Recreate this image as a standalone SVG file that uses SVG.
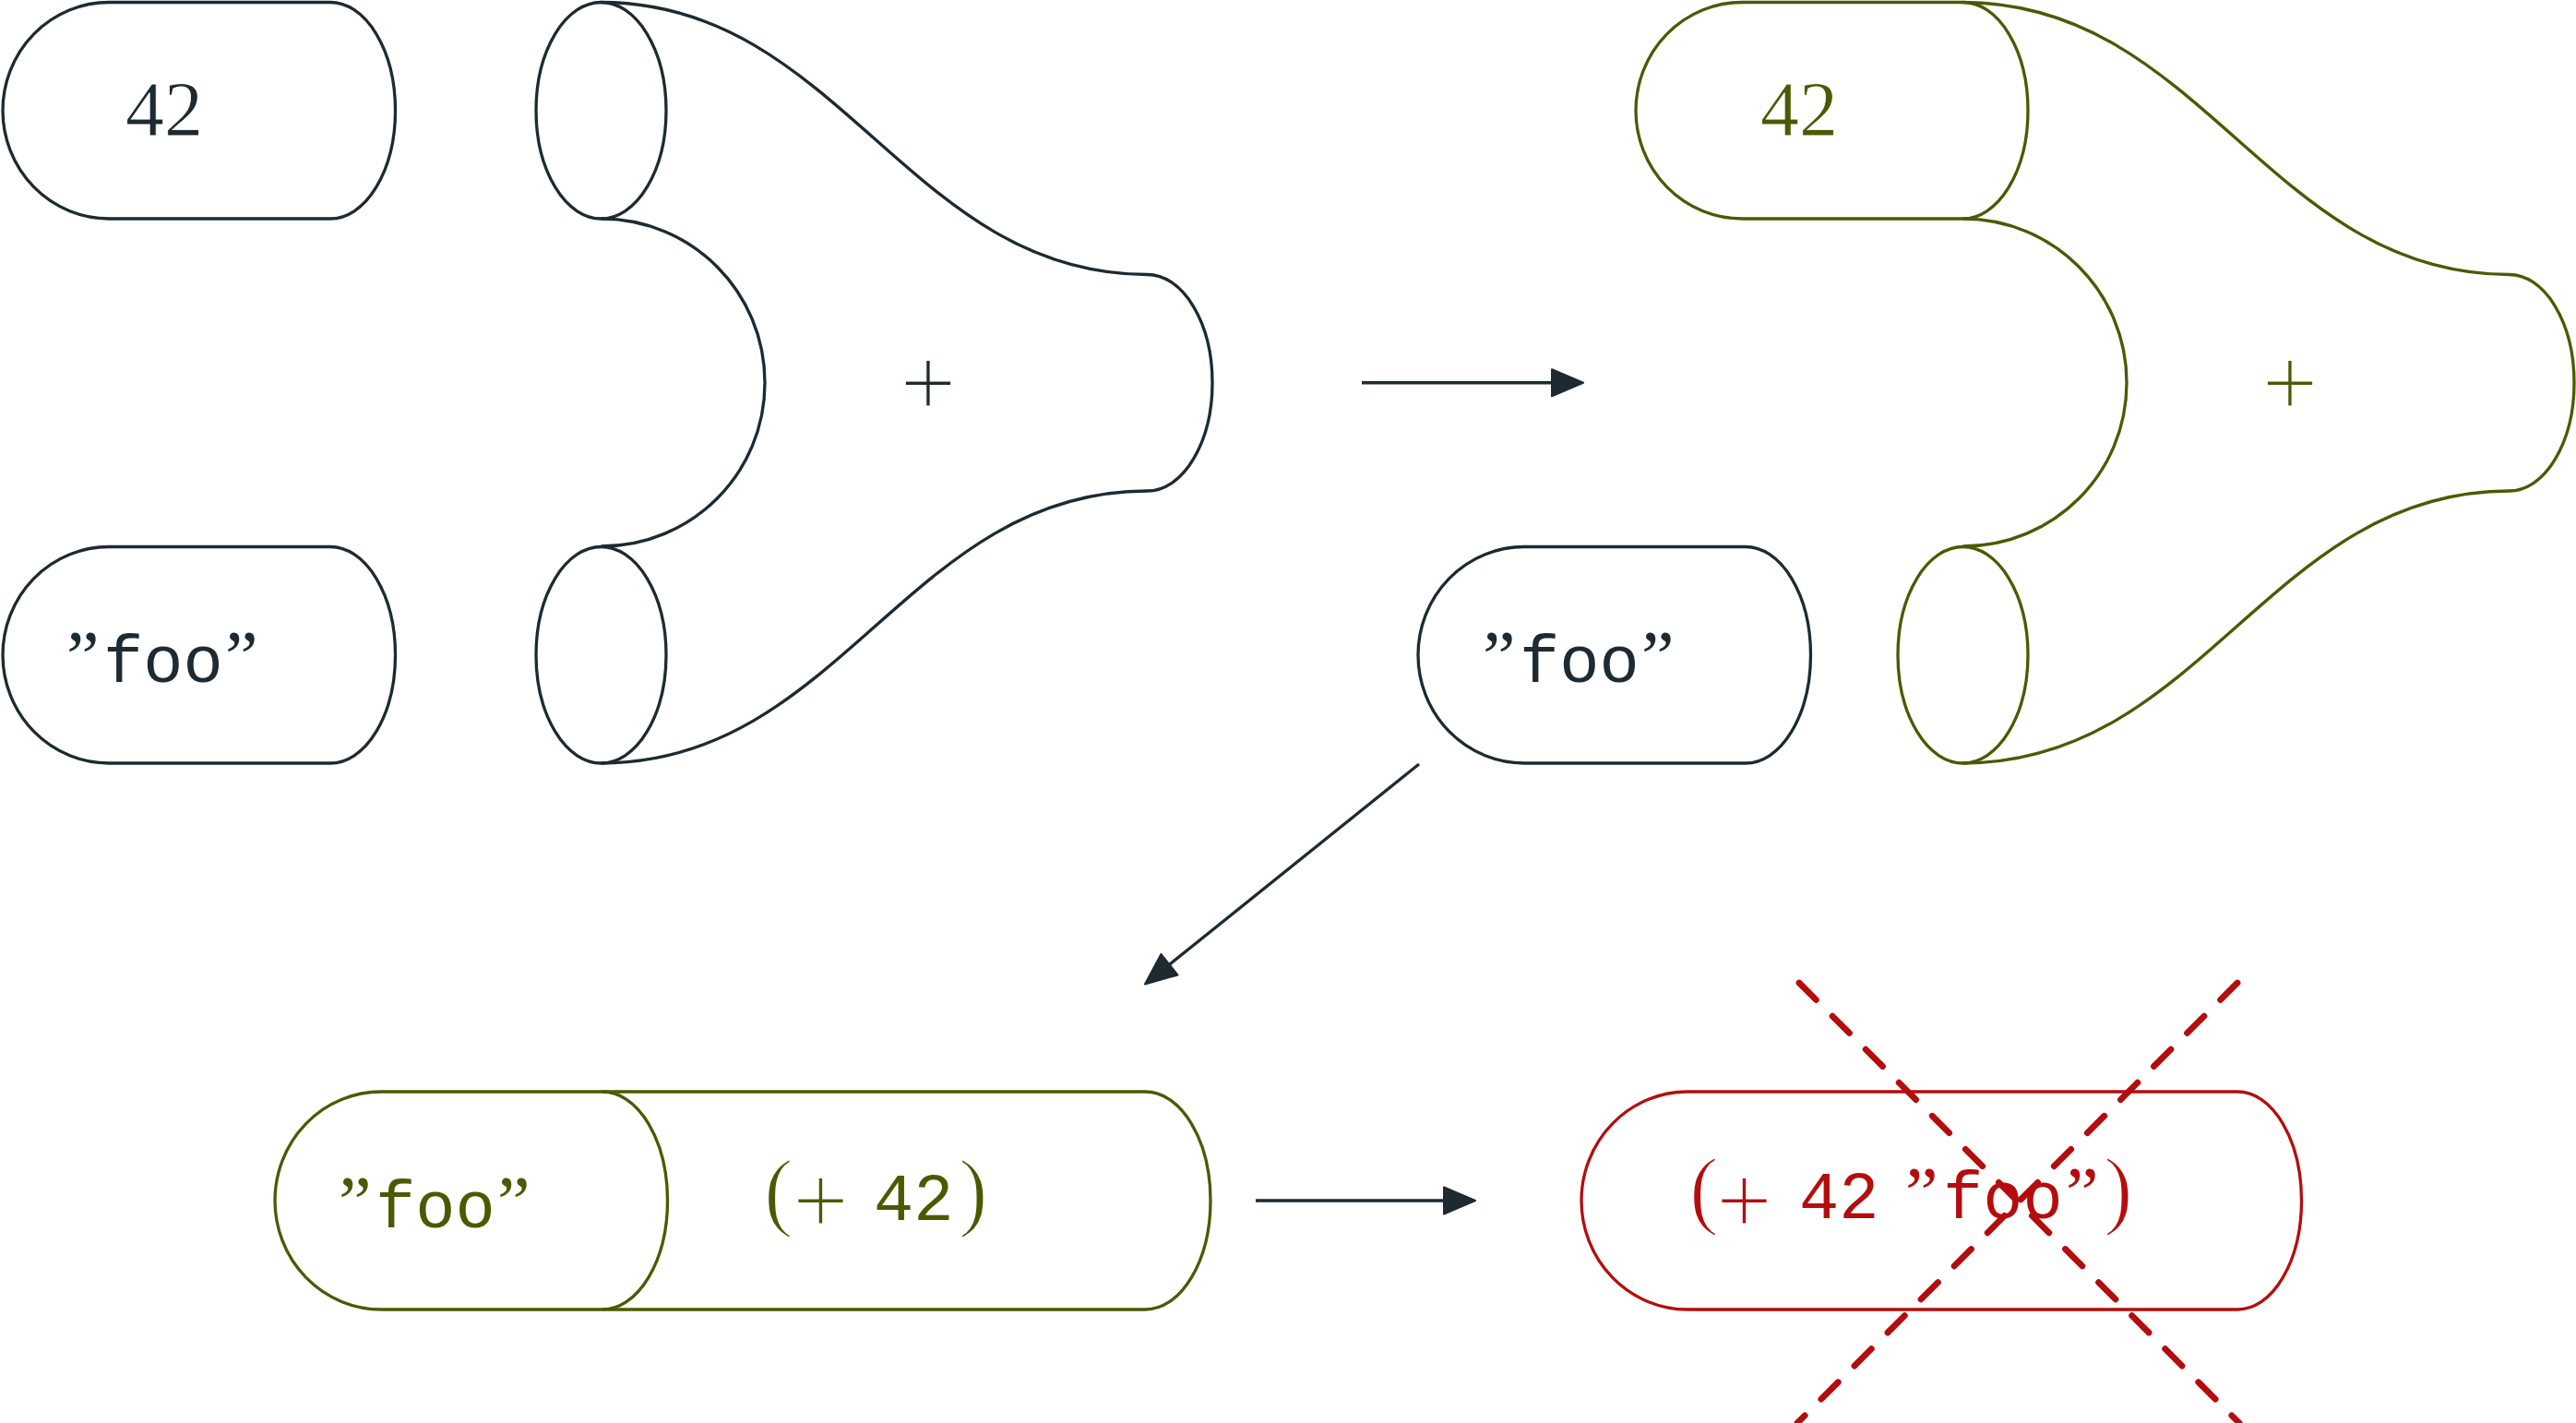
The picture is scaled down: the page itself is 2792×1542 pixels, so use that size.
<svg xmlns="http://www.w3.org/2000/svg" width="2792" height="1542" viewBox="0 0 2792 1542">
<defs>
<style>
.sh{fill:none;stroke-width:3.3;stroke-linejoin:round}
.dk{stroke:#1d2a31}
.ol{stroke:#4a5a00}
.rd{stroke:#b50d0d}
.tdk{fill:#1d2a31}
.tol{fill:#4a5a00}
.trd{fill:#b50d0d}
.serif{font-family:"Liberation Serif","Times New Roman",serif}
.mono{font-family:"Liberation Mono","Courier New",monospace}
.q{font-size:80px}
.tt{font-size:72px}
.num{font-size:84px;stroke:#ffffff;stroke-width:0.8px}
.plus{font-size:108px;stroke:#ffffff;stroke-width:2px}
.par{font-size:95px;stroke:#ffffff;stroke-width:2px}
.conn{stroke:#1d2a31;stroke-width:3.3;fill:none}
.cross{stroke:#b50d0d;stroke-width:6.8;stroke-linecap:round;stroke-dasharray:26 25;fill:none}
</style>
<marker id="ah" markerUnits="userSpaceOnUse" markerWidth="40" markerHeight="34" refX="27" refY="15.5" orient="auto" overflow="visible">
<path d="M1,1 L35,15.5 L1,30 Z" fill="#1d2a31" stroke="#1d2a31" stroke-width="2" stroke-linejoin="round"/>
</marker>
</defs>
<rect width="2792" height="1542" fill="#ffffff"/>

<g id="value-42">
<path class="sh dk" d="M118,2.5 H358 A70.5,117.25 0 0 1 358,237 H118 A115,117.25 0 0 1 118,2.5 Z"/>
<text class="serif num tdk" x="178" y="147" text-anchor="middle">42</text>
</g>

<g id="value-foo">
<path class="sh dk" d="M118,592.5 H358 A70.5,117.25 0 0 1 358,827 H118 A115,117.25 0 0 1 118,592.5 Z"/>
<text class="serif tdk" y="739"><tspan class="q" x="72">”</tspan><tspan class="mono tt" x="112">foo</tspan><tspan class="q" x="244">”</tspan></text>
</g>

<g id="func-plus">
<ellipse class="sh dk" cx="651.5" cy="119.75" rx="70.5" ry="117.25"/>
<ellipse class="sh dk" cx="651.5" cy="709.75" rx="70.5" ry="117.25"/>
<path class="sh dk" d="M651.5,2.5 C910.5,2.5 984.5,297.5 1243.5,297.5 A70.5,117.25 0 0 1 1243.5,532 C984.5,532 910.5,827 651.5,827"/>
<path class="sh dk" d="M651.5,237 C749.9,237 829,316.4 829,414.75 C829,513.1 749.9,592 651.5,592"/>
<text class="serif plus tdk" x="1006" y="451" text-anchor="middle">+</text>
</g>

<g id="value-foo-2">
<path class="sh dk" d="M1652,592.5 H1892 A70.5,117.25 0 0 1 1892,827 H1652 A115,117.25 0 0 1 1652,592.5 Z"/>
<text class="serif tdk" y="739"><tspan class="q" x="1607">”</tspan><tspan class="mono tt" x="1647">foo</tspan><tspan class="q" x="1779">”</tspan></text>
</g>

<g id="value-42-applied">
<path class="sh ol" d="M1888,2.5 H2127.5 A70.5,117.25 0 0 1 2127.5,237 H1888 A115,117.25 0 0 1 1888,2.5 Z"/>
<text class="serif num tol" x="1950" y="147" text-anchor="middle">42</text>
</g>

<g id="func-plus-2">
<ellipse class="sh ol" cx="2127.5" cy="709.75" rx="70.5" ry="117.25"/>
<path class="sh ol" d="M2127.5,2.5 C2386.5,2.5 2460.5,297.5 2719.5,297.5 A70.5,117.25 0 0 1 2719.5,532 C2460.5,532 2386.5,827 2127.5,827"/>
<path class="sh ol" d="M2127.5,237 C2225.9,237 2305,316.4 2305,414.75 C2305,513.1 2225.9,592 2127.5,592"/>
<text class="serif plus tol" x="2482" y="451" text-anchor="middle">+</text>
</g>

<g id="partial-application">
<path class="sh ol" d="M413,1183 H1241.5 A70.5,118 0 0 1 1241.5,1419 H413 A115,118 0 0 1 413,1183 Z"/>
<path class="sh ol" d="M653,1183 A70.5,118 0 0 1 653,1419"/>
<text class="serif tol" y="1330"><tspan class="q" x="367">”</tspan><tspan class="mono tt" x="407">foo</tspan><tspan class="q" x="539">”</tspan></text>
<text class="serif tol" y="1322"><tspan class="par" x="828">(</tspan><tspan class="plus" x="859" y="1337">+</tspan> <tspan class="mono tt" x="947" y="1322">42</tspan><tspan class="par" x="1039">)</tspan></text>
</g>

<g id="type-error">
<path class="sh rd" d="M1829,1183 H2425.5 A69,118 0 0 1 2425.5,1419 H1829 A115,118 0 0 1 1829,1183 Z"/>
<text class="serif trd" y="1320"><tspan class="par" x="1831">(</tspan><tspan class="plus" x="1860" y="1337">+</tspan> <tspan class="mono tt" x="1950" y="1320">42</tspan> <tspan class="q" x="2065">”</tspan><tspan class="mono tt" x="2106">foo</tspan><tspan class="q" x="2239">”</tspan><tspan class="par" x="2280">)</tspan></text>
<line class="cross" x1="1950" y1="1065" x2="2427" y2="1542"/>
<line class="cross" x1="2425" y1="1065" x2="1948" y2="1542"/>
</g>

<g id="connectors">
<line class="conn" x1="1476" y1="414.75" x2="1708" y2="414.75" marker-end="url(#ah)"/>
<line class="conn" x1="1538" y1="828" x2="1247.2" y2="1061.5" marker-end="url(#ah)"/>
<line class="conn" x1="1361" y1="1301" x2="1591" y2="1301" marker-end="url(#ah)"/>
</g>
</svg>
